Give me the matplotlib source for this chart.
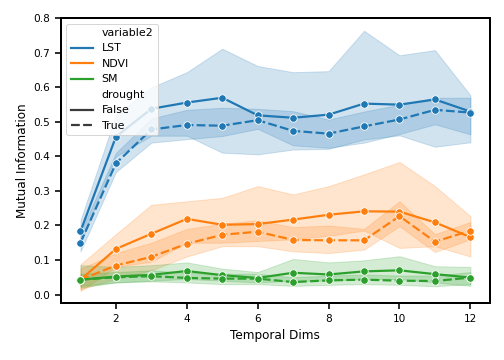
import matplotlib
matplotlib.use("Agg")
import matplotlib.pyplot as plt
from matplotlib.lines import Line2D

# temporal dims on the x axis
dims = [1, 2, 3, 4, 5, 6, 7, 8, 9, 10, 11, 12]

# mean mutual information + confidence band, drought False / True
lst_false = [0.183, 0.457, 0.538, 0.556, 0.570, 0.519, 0.512, 0.521, 0.553, 0.550, 0.565, 0.530]
lst_false_lo = [0.150, 0.400, 0.460, 0.460, 0.411, 0.406, 0.420, 0.422, 0.449, 0.461, 0.428, 0.441]
lst_false_hi = [0.215, 0.520, 0.600, 0.644, 0.712, 0.662, 0.644, 0.647, 0.764, 0.693, 0.708, 0.577]
lst_true = [0.150, 0.380, 0.478, 0.491, 0.489, 0.505, 0.474, 0.466, 0.487, 0.507, 0.535, 0.527]
lst_true_lo = [0.125, 0.355, 0.440, 0.450, 0.459, 0.480, 0.432, 0.425, 0.440, 0.465, 0.493, 0.464]
lst_true_hi = [0.180, 0.410, 0.510, 0.535, 0.541, 0.538, 0.531, 0.507, 0.530, 0.550, 0.570, 0.570]

ndvi_false = [0.043, 0.132, 0.176, 0.219, 0.202, 0.204, 0.217, 0.231, 0.241, 0.240, 0.209, 0.166]
ndvi_false_lo = [0.010, 0.080, 0.095, 0.150, 0.150, 0.155, 0.160, 0.170, 0.185, 0.135, 0.140, 0.110]
ndvi_false_hi = [0.087, 0.175, 0.260, 0.270, 0.280, 0.314, 0.290, 0.314, 0.348, 0.384, 0.314, 0.227]
ndvi_true = [0.043, 0.084, 0.109, 0.147, 0.173, 0.182, 0.158, 0.157, 0.157, 0.227, 0.153, 0.185]
ndvi_true_lo = [0.015, 0.045, 0.070, 0.110, 0.140, 0.140, 0.125, 0.120, 0.130, 0.198, 0.123, 0.160]
ndvi_true_hi = [0.075, 0.120, 0.150, 0.190, 0.205, 0.215, 0.195, 0.200, 0.190, 0.270, 0.175, 0.210]

sm_false = [0.043, 0.052, 0.057, 0.068, 0.056, 0.048, 0.063, 0.058, 0.067, 0.070, 0.059, 0.049]
sm_false_lo = [0.020, 0.035, 0.040, 0.045, 0.040, 0.035, 0.040, 0.040, 0.045, 0.045, 0.035, 0.025]
sm_false_hi = [0.085, 0.080, 0.085, 0.093, 0.075, 0.065, 0.103, 0.093, 0.099, 0.111, 0.082, 0.080]
sm_true = [0.043, 0.050, 0.053, 0.048, 0.046, 0.046, 0.036, 0.041, 0.043, 0.040, 0.039, 0.049]
sm_true_lo = [0.025, 0.035, 0.038, 0.035, 0.030, 0.030, 0.025, 0.028, 0.030, 0.028, 0.024, 0.030]
sm_true_hi = [0.060, 0.065, 0.070, 0.063, 0.060, 0.060, 0.050, 0.055, 0.058, 0.055, 0.055, 0.065]

variables = ["LST", "NDVI", "SM"]
colors = ["#1f77b4", "#ff7f0e", "#2ca02c"]

series = [
    (lst_false, lst_false_lo, lst_false_hi, lst_true, lst_true_lo, lst_true_hi),
    (ndvi_false, ndvi_false_lo, ndvi_false_hi, ndvi_true, ndvi_true_lo, ndvi_true_hi),
    (sm_false, sm_false_lo, sm_false_hi, sm_true, sm_true_lo, sm_true_hi),
]

fig = plt.figure(figsize=(7, 5), dpi=72)
ax = fig.add_axes([0.121, 0.157, 0.851, 0.793])

lw = 2.2
for (f, flo, fhi, t, tlo, thi), c in zip(series, colors):
    ax.plot(dims, f, color=c, lw=lw, marker="o", ms=7.5, mec="white", mew=0.8)
    ax.fill_between(dims, flo, fhi, color=c, alpha=0.2)
    ax.plot(dims, t, color=c, lw=lw, marker="o", ms=7.5, mec="white", mew=0.8,
            dashes=(4, 1.5))
    ax.fill_between(dims, tlo, thi, color=c, alpha=0.2)

ax.set_xlim(0.45, 12.55)
ax.set_ylim(-0.026, 0.801)
ax.set_xticks([2, 4, 6, 8, 10, 12])
ax.set_yticks([0.0, 0.1, 0.2, 0.3, 0.4, 0.5, 0.6, 0.7, 0.8])
ax.set_xlabel("Temporal Dims", fontsize=12, labelpad=5)
ax.set_ylabel("Mutual Information", fontsize=12)
ax.tick_params(labelsize=10.5, width=1.6, length=6, pad=5)
for s in ax.spines.values():
    s.set_linewidth(2.0)

# seaborn-like legend with sub titles
blank = Line2D([], [], color="none")
handles = [blank]
labels = ["variable2"]
for v, c in zip(variables, colors):
    handles.append(Line2D([], [], color=c, lw=lw))
    labels.append(v)
handles.append(blank)
labels.append("drought")
handles.append(Line2D([], [], color="#3a3a3a", lw=lw))
labels.append("False")
handles.append(Line2D([], [], color="#3a3a3a", lw=lw, dashes=(4, 1.5)))
labels.append("True")
ax.legend(handles, labels, loc="upper left", fontsize=11)

fig.savefig("out.png", dpi=72)
